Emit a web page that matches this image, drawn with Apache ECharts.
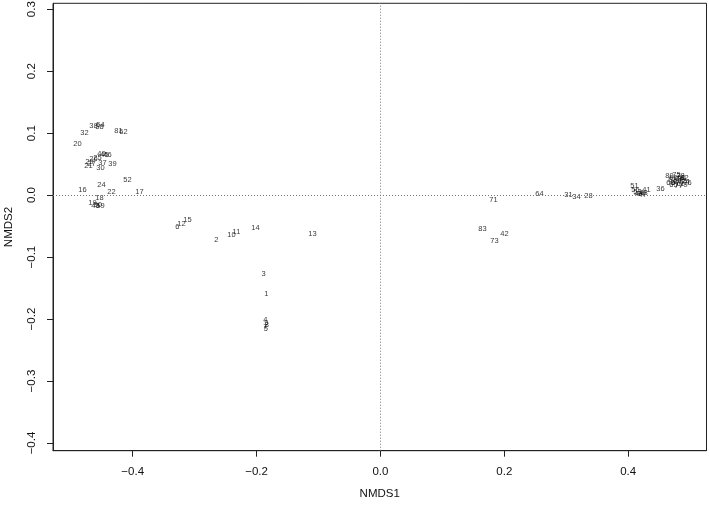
<!DOCTYPE html>
<html>
<head>
<meta charset="utf-8">
<script src="https://cdn.jsdelivr.net/npm/echarts@6/dist/echarts.min.js"></script>
<style>html,body{margin:0;padding:0;background:#fff}#c{width:709px;height:505px}</style>
</head>
<body>
<div id="c"></div>
<script>
// Site labels and NMDS scores
const siteLabels = [
  "38","54","58","32","81","62","20","40","46","45","26","25","29","21","27","37","39","30",
  "52","24","16","22","17","18","19","49","59","50",
  "6","12","15","2","10","11","14","13","3","1","4","9","8","7","5",
  "71","64","31","34","28","83","42","73",
  "51","56","53","41","44","47","48","43","36",
  "80","75","78","66","70","63","69","72","67","61","74","65","77","79","76","68","60","82"
];
const nmds1 = [
  -0.4635,-0.4522,-0.4538,-0.4780,-0.4231,-0.4150,-0.4893,-0.4505,-0.4409,-0.4457,-0.4633,-0.4570,-0.4699,-0.4715,-0.4667,-0.4489,-0.4328,-0.4522,
  -0.4086,-0.4505,-0.4812,-0.4344,-0.3892,-0.4538,-0.4651,-0.4603,-0.4522,-0.4563,
  -0.3278,-0.3214,-0.3117,-0.2648,-0.2406,-0.2325,-0.2019,-0.1098,-0.1889,-0.1841,-0.1857,-0.1841,-0.1833,-0.1857,-0.1849,
  0.1825,0.2568,0.3036,0.3165,0.3359,0.1647,0.2002,0.1841,
  0.4102,0.4118,0.4150,0.4296,0.4199,0.4231,0.4247,0.4166,0.4522,
  0.4667,0.4780,0.4845,0.4731,0.4829,0.4715,0.4796,0.4877,0.4764,0.4845,0.4925,0.4731,0.4812,0.4893,0.4958,0.4683,0.4861,0.4909
];
const nmds2 = [
  0.1114,0.1130,0.1106,0.1009,0.1033,0.1025,0.0823,0.0662,0.0654,0.0646,0.0581,0.0605,0.0533,0.0468,0.0500,0.0517,0.0508,0.0436,
  0.0242,0.0161,0.0081,0.0056,0.0056,-0.0040,-0.0129,-0.0178,-0.0178,-0.0161,
  -0.0517,-0.0468,-0.0395,-0.0718,-0.0638,-0.0597,-0.0533,-0.0630,-0.1275,-0.1590,-0.2010,-0.2066,-0.2098,-0.2131,-0.2155,
  -0.0081,0.0024,0.0008,-0.0024,-0.0016,-0.0541,-0.0630,-0.0734,
  0.0145,0.0081,0.0048,0.0089,0.0016,0.0000,0.0032,0.0024,0.0097,
  0.0315,0.0323,0.0307,0.0274,0.0258,0.0242,0.0226,0.0234,0.0194,0.0186,0.0210,0.0161,0.0153,0.0169,0.0194,0.0194,0.0283,0.0275
];
const xTicks = [-0.4,-0.2,0.0,0.2,0.4];
const yTicks = [-0.4,-0.3,-0.2,-0.1,0.0,0.1,0.2,0.3];

const fmt = v => (v < 0 ? '\u2212' : '') + Math.abs(v).toFixed(1);
const pts = siteLabels.map((s,i) => [nmds1[i], nmds2[i], s]);

const chart = echarts.init(document.getElementById('c'), null, {renderer:'canvas'});
chart.setOption({
  animation: false,
  backgroundColor: '#fff',
  grid: {left: 53, right: 2.5, top: 3.3, bottom: 54.3, containLabel: false, outerBoundsMode: 'none',
         show: true, borderColor: '#222', borderWidth: 1, backgroundColor: 'transparent'},
  xAxis: {
    type: 'value', min: -0.5287, max: 0.5264,
    name: 'NMDS1', nameLocation: 'middle', nameGap: 37,
    nameTextStyle: {fontFamily: 'Liberation Sans', fontSize: 11.5, color: '#111'},
    axisLine: {show: true, onZero: false, lineStyle: {color: '#222'}},
    axisTick: {show: true, length: 6, inside: false, customValues: xTicks, lineStyle: {color: '#222'}},
    axisLabel: {customValues: xTicks, formatter: fmt, margin: 15, fontFamily: 'Liberation Sans', fontSize: 11.5, color: '#111'},
    splitLine: {show: false}
  },
  yAxis: {
    type: 'value', min: -0.4124, max: 0.3095,
    name: 'NMDS2', nameLocation: 'middle', nameGap: 38, nameRotate: 90,
    nameTextStyle: {fontFamily: 'Liberation Sans', fontSize: 11.5, color: '#111'},
    axisLine: {show: true, onZero: false, lineStyle: {color: '#222'}},
    axisTick: {show: true, length: 6, inside: false, customValues: yTicks, lineStyle: {color: '#222'}},
    axisLabel: {customValues: yTicks, formatter: fmt, rotate: 90, margin: 15, fontFamily: 'Liberation Sans', fontSize: 11.5, color: '#111'},
    splitLine: {show: false}
  },
  series: [{
    type: 'scatter',
    data: pts,
    symbolSize: 1,
    itemStyle: {color: 'rgba(0,0,0,0)'},
    label: {show: true, position: 'inside', formatter: p => p.data[2], fontFamily: 'Liberation Sans', fontSize: 7.5, color: '#000'},
    markLine: {
      silent: true, symbol: 'none', animation: false,
      label: {show: false},
      lineStyle: {type: [1, 2], color: '#777', width: 1},
      data: [{xAxis: 0}, {yAxis: 0}]
    }
  }]
});
</script>
</body>
</html>
